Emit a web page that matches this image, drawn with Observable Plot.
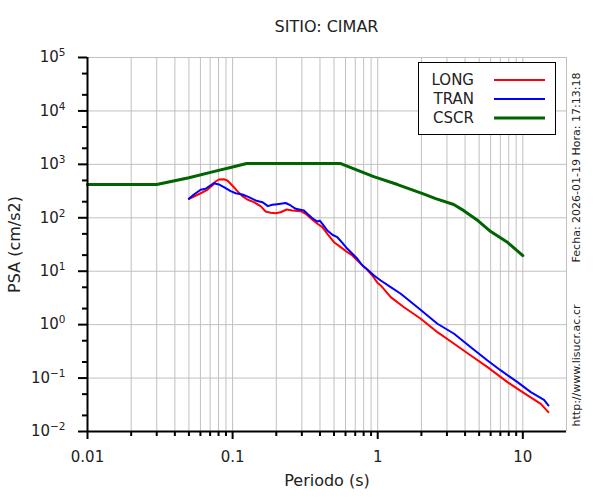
<!DOCTYPE html>
<html>
<head>
<meta charset="utf-8">
<script src="https://cdn.jsdelivr.net/npm/d3@7"></script>
<script src="https://cdn.jsdelivr.net/npm/@observablehq/plot@0.6"></script>
<style>
  body { margin: 0; background: #fff; font-family: "DejaVu Sans", sans-serif; }
  #wrap { position: relative; width: 600px; height: 500px; overflow: hidden; background: #fff; }
  #title { position: absolute; left: 87px; width: 479px; top: 17px; height: 20px; line-height: 20px; text-align: center; font-size: 16px; color: #222; }
  #chart { position: absolute; left: 0; top: 40px; }
  #legend { position: absolute; left: 418px; top: 62px; width: 138px; height: 73px; box-sizing: border-box; border: 1.5px solid #000; background: #fff; }
  #legend svg { position: absolute; left: -1.5px; top: -1.5px; }
</style>
</head>
<body>
<div id="wrap">
  <div id="title"></div>
  <div id="chart"></div>
  <div id="legend"></div>
</div>
<script>
// ---- data ----
const titleText = "SITIO: CIMAR";
const xLabel = "Periodo (s)";
const yLabel = "PSA (cm/s2)";
const dateText = "Fecha: 2026-01-19 Hora: 17:13:18";
const urlText = "http://www.lisucr.ac.cr";

const seriesNames = ["LONG", "TRAN", "CSCR"];
const seriesColors = ["#ff0000", "#0000ff", "#006400"];

const LONG_T = [0.05, 0.0541, 0.0602, 0.0669, 0.0724, 0.0763, 0.0804, 0.0871, 0.0919, 0.0995, 0.1078, 0.1167, 0.1263, 0.1402, 0.156, 0.169, 0.1828, 0.198, 0.2143, 0.2357, 0.258, 0.294, 0.319, 0.345, 0.384, 0.4155, 0.4497, 0.4995, 0.5556, 0.618, 0.669, 0.743, 0.826, 0.919, 0.995, 1.049, 1.229, 1.518, 1.98, 2.58, 3.36, 4.38, 5.71, 7.84, 10.2, 13.3, 15];
const LONG_PSA = [226, 250, 288, 334, 402, 478, 521, 527, 499, 402, 315, 254, 220, 196, 165, 131, 124, 122, 127, 143, 137, 133, 119, 98, 77.2, 66.7, 50.1, 34.9, 28.2, 22.7, 19.7, 14.8, 11.4, 8.32, 6.07, 5.41, 3.27, 2.12, 1.29, 0.723, 0.438, 0.265, 0.160, 0.0838, 0.0521, 0.0330, 0.0230];

const TRAN_T = [0.05, 0.0541, 0.0602, 0.0651, 0.0686, 0.0743, 0.0804, 0.0871, 0.0969, 0.105, 0.1167, 0.1295, 0.144, 0.1603, 0.1751, 0.1878, 0.2034, 0.232, 0.2512, 0.272, 0.310, 0.3275, 0.3545, 0.384, 0.400, 0.4155, 0.4497, 0.487, 0.527, 0.571, 0.618, 0.669, 0.724, 0.7845, 0.849, 0.943, 1.049, 1.229, 1.441, 1.878, 2.58, 3.36, 4.38, 5.71, 7.05, 9.19, 11.35, 14.0, 15];
const TRAN_PSA = [226, 273, 334, 349, 385, 444, 420, 374, 315, 288, 273, 243, 211, 196, 165, 175, 180, 189, 170, 147, 137, 119, 98, 85.3, 87.9, 77.2, 57.8, 48.1, 43.3, 34.0, 26.3, 21.2, 17.1, 12.8, 10.8, 8.32, 6.70, 5.02, 3.78, 2.12, 1.04, 0.675, 0.378, 0.213, 0.139, 0.0838, 0.0545, 0.0392, 0.0307];

const CSCR_T = [0.01, 0.03, 0.05, 0.075, 0.1, 0.125, 0.556, 0.938, 1.37, 2.04, 2.51, 3.34, 3.92, 4.90, 6.01, 7.88, 10];
const CSCR_PSA = [420, 420, 560, 740, 890, 1035, 1035, 591, 419, 284, 229, 177, 136, 88.7, 55.2, 34.4, 19.6];

const xMajorTicks = [0.01, 0.1, 1, 10];
const xMinorTicks = [0.02, 0.03, 0.04, 0.05, 0.06, 0.07, 0.08, 0.09, 0.2, 0.3, 0.4, 0.5, 0.6, 0.7, 0.8, 0.9, 2, 3, 4, 5, 6, 7, 8, 9];
const xEdge = [20];
const yMajorTicks = [0.01, 0.1, 1, 10, 100, 1000, 10000, 100000];
const yMinorTicks = [0.02, 0.05, 0.2, 0.5, 2, 5, 20, 50, 200, 500, 2000, 5000, 20000, 50000];

// ---- build ----
const toRows = (T, P) => T.map((t, i) => ({T: t, psa: P[i]}));
const longRows = toRows(LONG_T, LONG_PSA);
const tranRows = toRows(TRAN_T, TRAN_PSA);
const cscrRows = toRows(CSCR_T, CSCR_PSA);

const supMap = {"-": "\u207B", "0": "\u2070", "1": "\u00B9", "2": "\u00B2", "3": "\u00B3", "4": "\u2074", "5": "\u2075", "6": "\u2076", "7": "\u2077", "8": "\u2078", "9": "\u2079"};
const expOf = d => String(Math.round(Math.log10(d)));
const supFmt = d => "10" + expOf(d).split("").map(c => supMap[c]).join("");

document.getElementById("title").textContent = titleText;

const gridStyle = {stroke: "#c0c0c0", strokeOpacity: 1, strokeWidth: 1};
const txt = d => d;

const plot = Plot.plot({
  width: 600,
  height: 460,
  marginLeft: 87,
  marginRight: 34,
  marginTop: 17,
  marginBottom: 69,
  style: {fontFamily: "DejaVu Sans", fontSize: "15px", color: "#222", background: "white", overflow: "visible"},
  x: {type: "log", domain: [0.01, 20]},
  y: {type: "log", domain: [0.01, 100000]},
  marks: [
    Plot.gridX(xMinorTicks.concat(xMajorTicks, xEdge), gridStyle),
    Plot.gridY(yMajorTicks, gridStyle),
    Plot.line(cscrRows, {x: "T", y: "psa", stroke: seriesColors[2], strokeWidth: 3}),
    Plot.line(longRows, {x: "T", y: "psa", stroke: seriesColors[0], strokeWidth: 2}),
    Plot.line(tranRows, {x: "T", y: "psa", stroke: seriesColors[1], strokeWidth: 2}),
    Plot.ruleX([0.01], {stroke: "black", strokeWidth: 2}),
    Plot.ruleY([0.01], {stroke: "black", strokeWidth: 2}),
    Plot.axisX(xMajorTicks, {tickSize: 8, tickPadding: 12, tickFormat: d => String(d), stroke: "black", strokeWidth: 2, fontSize: 15, fill: "#222", label: null}),
    Plot.axisX(xMinorTicks, {tickSize: 5, tickFormat: () => "", stroke: "black", strokeWidth: 2, label: null}),
    Plot.axisY(yMajorTicks, {tickSize: 9, tickPadding: 13, tickFormat: supFmt, stroke: "black", strokeWidth: 2, fontSize: 15, fill: "#222", label: null, ariaLabel: "y-major"}),
    Plot.axisY(yMinorTicks, {tickSize: 5, tickFormat: () => "", stroke: "black", strokeWidth: 2, label: null}),
    Plot.text([xLabel], {text: txt, frameAnchor: "bottom", dy: 54, fontSize: 16, fill: "#222", textAnchor: "middle"}),
    Plot.text([yLabel], {text: txt, frameAnchor: "left", dx: -73, rotate: -90, fontSize: 16, fill: "#222", textAnchor: "middle"}),
    Plot.text([dateText], {text: txt, frameAnchor: "right", dx: 10, dy: -77, rotate: -90, fontSize: 11, fill: "#222", textAnchor: "middle"}),
    Plot.text([urlText], {text: txt, frameAnchor: "right", dx: 10, dy: 121, rotate: -90, fontSize: 11, fill: "#222", textAnchor: "middle"})
  ]
});
document.getElementById("chart").appendChild(plot);

// render y tick exponents as raised tspans (still real text)
const revSup = {};
Object.keys(supMap).forEach(k => { revSup[supMap[k]] = k; });
plot.querySelectorAll("text").forEach(t => {
  const s = t.textContent;
  if (/^10[\u207B\u2070\u00B9\u00B2\u00B3\u2074-\u2079]+$/.test(s)) {
    const e = s.slice(2).split("").map(c => revSup[c]).join("");
    while (t.firstChild) t.removeChild(t.firstChild);
    const ns0 = "http://www.w3.org/2000/svg";
    const b = document.createElementNS(ns0, "tspan");
    b.textContent = "10";
    const p = document.createElementNS(ns0, "tspan");
    p.textContent = e.replace("-", "\u2212");
    p.setAttribute("font-size", "10.5");
    p.setAttribute("dy", "-6");
    t.appendChild(b);
    t.appendChild(p);
  }
});

// ---- legend ----
const ns = "http://www.w3.org/2000/svg";
const lsvg = document.createElementNS(ns, "svg");
lsvg.setAttribute("width", 138);
lsvg.setAttribute("height", 73);
seriesNames.forEach((name, i) => {
  const y = 18 + i * 19;
  const t = document.createElementNS(ns, "text");
  t.setAttribute("x", 56);
  t.setAttribute("y", y);
  t.setAttribute("text-anchor", "end");
  t.setAttribute("dominant-baseline", "central");
  t.setAttribute("font-family", "DejaVu Sans");
  t.setAttribute("font-size", 15);
  t.setAttribute("fill", "#222");
  t.textContent = name;
  lsvg.appendChild(t);
  const l = document.createElementNS(ns, "line");
  l.setAttribute("x1", 76);
  l.setAttribute("x2", 127);
  l.setAttribute("y1", y);
  l.setAttribute("y2", y);
  l.setAttribute("stroke", seriesColors[i]);
  l.setAttribute("stroke-width", i === 2 ? 3 : 2);
  lsvg.appendChild(l);
});
document.getElementById("legend").appendChild(lsvg);
</script>
</body>
</html>
